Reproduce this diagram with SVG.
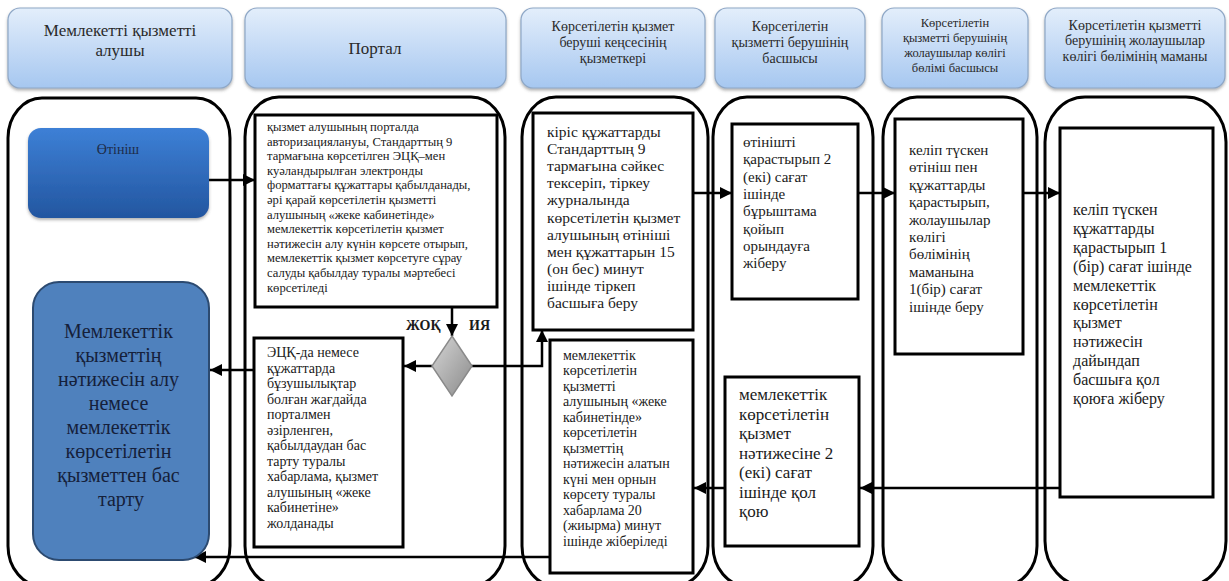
<svg xmlns="http://www.w3.org/2000/svg" width="1229" height="581" viewBox="0 0 1229 581" font-family="'Liberation Serif', 'DejaVu Serif', serif">
<style>
.hdr{fill:url(#hg);stroke:#8ea7c6;stroke-width:1.2;filter:url(#sh)}
.ht{fill:#2a2a2a;text-anchor:middle}
.lane{fill:#fff;stroke:#000;stroke-width:3}
.box{fill:#fff;stroke:#000;stroke-width:3}
.bt{fill:#1a1a1a}
.con{fill:none;stroke:#000;stroke-width:2.5}
.lbl{font-weight:bold;font-size:14px;fill:#1a1a1a}
</style>
<defs>
<linearGradient id="hg" x1="0" y1="0" x2="0" y2="1">
<stop offset="0" stop-color="#e3eefb"/>
<stop offset="1" stop-color="#a6c7f0"/>
</linearGradient>
<linearGradient id="bg" x1="0" y1="0" x2="0" y2="1">
<stop offset="0" stop-color="#3d80d6"/>
<stop offset="1" stop-color="#2356a0"/>
</linearGradient>
<linearGradient id="dg" x1="0" y1="0" x2="1" y2="1">
<stop offset="0" stop-color="#d6d6d6"/>
<stop offset="1" stop-color="#8a8a8a"/>
</linearGradient>
<filter id="sh" x="-10%" y="-10%" width="120%" height="130%">
<feDropShadow dx="0" dy="2" stdDeviation="1.5" flood-color="#555" flood-opacity="0.45"/>
</filter>
<marker id="ah" viewBox="0 0 10 10" refX="10" refY="5" markerWidth="4.8" markerHeight="4.8" orient="auto" markerUnits="strokeWidth">
<path d="M0,0 L10,5 L0,10 z" fill="#000"/>
</marker>
</defs>

<g id="headers">
<g id="h1"><rect class="hdr" x="8" y="8" width="224" height="80" rx="12"/>
<text class="ht" font-size="17" x="120" y="36">Мемлекетті қызметті</text>
<text class="ht" font-size="17" x="120" y="56">алушы</text></g>
<g id="h2"><rect class="hdr" x="245" y="8" width="261" height="80" rx="12"/>
<text class="ht" font-size="17" x="375" y="54">Портал</text></g>
<g id="h3"><rect class="hdr" x="521" y="8" width="184" height="80" rx="12"/>
<text class="ht" font-size="14" x="613" y="31">Көрсетілетін қызмет</text>
<text class="ht" font-size="14" x="613" y="47">беруші кеңсесінің</text>
<text class="ht" font-size="14" x="613" y="63">қызметкері</text></g>
<g id="h4"><rect class="hdr" x="715" y="8" width="150" height="80" rx="12"/>
<text class="ht" font-size="14" x="790" y="31">Көрсетілетін</text>
<text class="ht" font-size="14" x="790" y="47">қызметті  берушінің</text>
<text class="ht" font-size="14" x="790" y="63">басшысы</text></g>
<g id="h5"><rect class="hdr" x="882" y="8" width="146" height="80" rx="12"/>
<text class="ht" font-size="12.5" x="955" y="27">Көрсетілетін</text>
<text class="ht" font-size="12.5" x="955" y="42">қызметті берушінің</text>
<text class="ht" font-size="12.5" x="955" y="57">жолаушылар көлігі</text>
<text class="ht" font-size="12.5" x="955" y="72">бөлімі басшысы</text></g>
<g id="h6"><rect class="hdr" x="1045" y="8" width="180" height="80" rx="12"/>
<text class="ht" font-size="14" x="1135" y="30">Көрсетілетін қызметті</text>
<text class="ht" font-size="14" x="1135" y="45">берушінің жолаушылар</text>
<text class="ht" font-size="14" x="1135" y="61">көлігі бөлімінің маманы</text></g>
</g>

<g id="lanes">
<rect class="lane" x="8" y="98" width="222" height="488" rx="34" ry="40"/>
<rect class="lane" x="245" y="97" width="260" height="489" rx="34" ry="40"/>
<rect class="lane" x="522" y="97" width="186" height="489" rx="34" ry="40"/>
<rect class="lane" x="713" y="97" width="160" height="489" rx="34" ry="40"/>
<rect class="lane" x="883" y="97" width="154" height="489" rx="34" ry="40"/>
<rect class="lane" x="1045" y="97" width="181" height="489" rx="40" ry="45"/>
</g>

<g id="connectors">
<path class="con" marker-end="url(#ah)" d="M209,180 H255"/>
<path class="con" marker-end="url(#ah)" d="M452,307 V336"/>
<path class="con" marker-end="url(#ah)" d="M432,366 H404"/>
<path class="con" marker-end="url(#ah)" d="M471,366 H542 V330"/>
<path class="con" marker-end="url(#ah)" d="M254,370 H210"/>
<path class="con" marker-end="url(#ah)" d="M693,193 H732"/>
<path class="con" marker-end="url(#ah)" d="M858,193 H895"/>
<path class="con" marker-end="url(#ah)" d="M1023,193 H1060"/>
<path class="con" marker-end="url(#ah)" d="M1060,488 H860"/>
<path class="con" marker-end="url(#ah)" d="M725,488 H694"/>
<path class="con" marker-end="url(#ah)" d="M550,557 H194"/>
<text class="lbl" x="406" y="330">ЖОҚ</text>
<text class="lbl" x="469" y="330">ИЯ</text>
</g>

<g id="n-otinish">
<rect x="28" y="128" width="181" height="90" rx="13" fill="url(#bg)" filter="url(#sh)"/>
<text class="ht" font-size="14" x="118" y="154" style="fill:#1e2c48">Өтініш</text>
</g>

<g id="n-result">
<rect x="33" y="282" width="176" height="278" rx="26" fill="#4f81bd" stroke="#2c4a70" stroke-width="2"/>
<text class="ht" font-size="20" style="fill:#15203a">
<tspan x="121" y="338">Мемлекеттік</tspan>
<tspan x="121" dy="24">қызметтің</tspan>
<tspan x="121" dy="24">нәтижесін алу</tspan>
<tspan x="121" dy="24">немесе</tspan>
<tspan x="121" dy="24">мемлекеттік</tspan>
<tspan x="121" dy="24">көрсетілетін</tspan>
<tspan x="121" dy="24">қызметтен бас</tspan>
<tspan x="121" dy="24">тарту</tspan>
</text>
</g>

<g id="n-portal1">
<rect class="box" x="255" y="115" width="242" height="192"/>
<text class="bt" font-size="12.6">
<tspan x="267" y="131">қызмет алушының  порталда</tspan>
<tspan x="267" dy="14.6">авторизациялануы, Стандарттың 9</tspan>
<tspan x="267" dy="14.6">тармағына көрсетілген ЭЦҚ–мен</tspan>
<tspan x="267" dy="14.6">куәландырылған электронды</tspan>
<tspan x="267" dy="14.6">форматтағы құжаттары қабылданады,</tspan>
<tspan x="267" dy="14.6">әрі қарай көрсетілетін қызметті</tspan>
<tspan x="267" dy="14.6">алушының «жеке кабинетінде»</tspan>
<tspan x="267" dy="14.6">мемлекеттік көрсетілетін қызмет</tspan>
<tspan x="267" dy="14.6">нәтижесін алу күнін көрсете отырып,</tspan>
<tspan x="267" dy="14.6">мемлекеттік қызмет көрсетуге сұрау</tspan>
<tspan x="267" dy="14.6">салуды қабылдау туралы мәртебесі</tspan>
<tspan x="267" dy="14.6">көрсетіледі</tspan>
</text>
</g>

<g id="n-decision">
<polygon points="452,336 472,366 452,396 432,366" fill="url(#dg)" stroke="#8a8a8a" stroke-width="1.5"/>
</g>

<g id="n-portal2">
<rect class="box" x="254" y="338" width="149" height="209"/>
<text class="bt" font-size="14">
<tspan x="267" y="357">ЭЦҚ-да немесе</tspan>
<tspan x="267" dy="15.5">құжаттарда</tspan>
<tspan x="267" dy="15.5">бұзушылықтар</tspan>
<tspan x="267" dy="15.5">болған жағдайда</tspan>
<tspan x="267" dy="15.5">порталмен</tspan>
<tspan x="267" dy="15.5">әзірленген,</tspan>
<tspan x="267" dy="15.5">қабылдаудан бас</tspan>
<tspan x="267" dy="15.5">тарту туралы</tspan>
<tspan x="267" dy="15.5">хабарлама, қызмет</tspan>
<tspan x="267" dy="15.5">алушының «жеке</tspan>
<tspan x="267" dy="15.5">кабинетіне»</tspan>
<tspan x="267" dy="15.5">жолданады</tspan>
</text>
</g>

<g id="n-clerk1">
<rect class="box" x="533" y="113" width="160" height="217"/>
<text class="bt" font-size="15.5">
<tspan x="547" y="137">кіріс құжаттарды</tspan>
<tspan x="547" dy="17.1">Стандарттың 9</tspan>
<tspan x="547" dy="17.1">тармағына сәйкес</tspan>
<tspan x="547" dy="17.1">тексеріп, тіркеу</tspan>
<tspan x="547" dy="17.1">журналында</tspan>
<tspan x="547" dy="17.1">көрсетілетін қызмет</tspan>
<tspan x="547" dy="17.1">алушының өтініші</tspan>
<tspan x="547" dy="17.1">мен құжаттарын 15</tspan>
<tspan x="547" dy="17.1">(он бес) минут</tspan>
<tspan x="547" dy="17.1">ішінде тіркеп</tspan>
<tspan x="547" dy="17.1">басшыға беру</tspan>
</text>
</g>

<g id="n-clerk2">
<rect class="box" x="550" y="340" width="143" height="233"/>
<text class="bt" font-size="14">
<tspan x="563" y="359.5">мемлекеттік</tspan>
<tspan x="563" dy="15.5">көрсетілетін</tspan>
<tspan x="563" dy="15.5">қызметті</tspan>
<tspan x="563" dy="15.5">алушының «жеке</tspan>
<tspan x="563" dy="15.5">кабинетінде»</tspan>
<tspan x="563" dy="15.5">көрсетілетін</tspan>
<tspan x="563" dy="15.5">қызметтің</tspan>
<tspan x="563" dy="15.5">нәтижесін алатын</tspan>
<tspan x="563" dy="15.5">күні мен орнын</tspan>
<tspan x="563" dy="15.5">көрсету туралы</tspan>
<tspan x="563" dy="15.5">хабарлама 20</tspan>
<tspan x="563" dy="15.5">(жиырма) минут</tspan>
<tspan x="563" dy="15.5">ішінде жіберіледі</tspan>
</text>
</g>

<g id="n-head1">
<rect class="box" x="732" y="124" width="126" height="175"/>
<text class="bt" font-size="15">
<tspan x="743" y="147">өтінішті</tspan>
<tspan x="743" dy="17.3">қарастырып  2</tspan>
<tspan x="743" dy="17.3">(екі) сағат</tspan>
<tspan x="743" dy="17.3">ішінде</tspan>
<tspan x="743" dy="17.3">бұрыштама</tspan>
<tspan x="743" dy="17.3">қойып</tspan>
<tspan x="743" dy="17.3">орындауға</tspan>
<tspan x="743" dy="17.3">жіберу</tspan>
</text>
</g>

<g id="n-head2">
<rect class="box" x="725" y="377" width="134" height="169"/>
<text class="bt" font-size="17">
<tspan x="739" y="400">мемлекеттік</tspan>
<tspan x="739" dy="19.5">көрсетілетін</tspan>
<tspan x="739" dy="19.5">қызмет</tspan>
<tspan x="739" dy="19.5">нәтижесіне 2</tspan>
<tspan x="739" dy="19.5">(екі) сағат</tspan>
<tspan x="739" dy="19.5">ішінде қол</tspan>
<tspan x="739" dy="19.5">қою</tspan>
</text>
</g>

<g id="n-depthead">
<rect class="box" x="895" y="119" width="128" height="235"/>
<text class="bt" font-size="15">
<tspan x="909" y="155">келіп түскен</tspan>
<tspan x="909" dy="17.4">өтініш пен</tspan>
<tspan x="909" dy="17.4">құжаттарды</tspan>
<tspan x="909" dy="17.4">қарастырып,</tspan>
<tspan x="909" dy="17.4">жолаушылар</tspan>
<tspan x="909" dy="17.4">көлігі</tspan>
<tspan x="909" dy="17.4">бөлімінің</tspan>
<tspan x="909" dy="17.4">маманына</tspan>
<tspan x="909" dy="17.4">1(бір) сағат</tspan>
<tspan x="909" dy="17.4">ішінде беру</tspan>
</text>
</g>

<g id="n-specialist">
<rect class="box" x="1060" y="128" width="153" height="369"/>
<text class="bt" font-size="16">
<tspan x="1073" y="215">келіп түскен</tspan>
<tspan x="1073" dy="18.9">құжаттарды</tspan>
<tspan x="1073" dy="18.9">қарастырып 1</tspan>
<tspan x="1073" dy="18.9">(бір) сағат ішінде</tspan>
<tspan x="1073" dy="18.9">мемлекеттік</tspan>
<tspan x="1073" dy="18.9">көрсетілетін</tspan>
<tspan x="1073" dy="18.9">қызмет</tspan>
<tspan x="1073" dy="18.9">нәтижесін</tspan>
<tspan x="1073" dy="18.9">дайындап</tspan>
<tspan x="1073" dy="18.9">басшыға қол</tspan>
<tspan x="1073" dy="18.9">қоюға жіберу</tspan>
</text>
</g>
</svg>
